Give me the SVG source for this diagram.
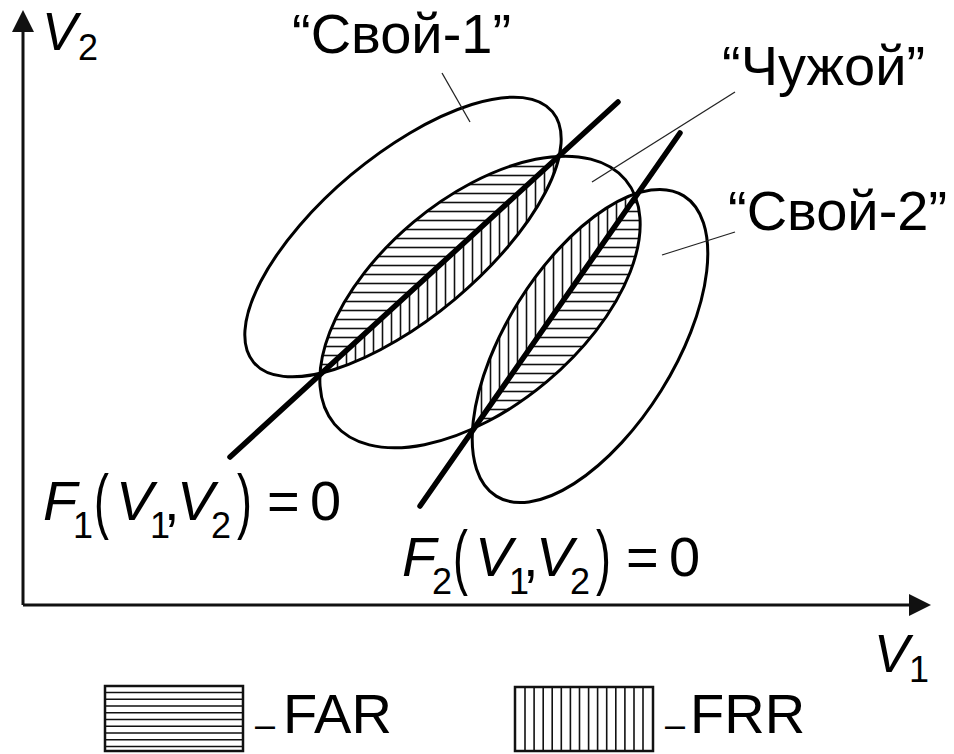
<svg xmlns="http://www.w3.org/2000/svg" width="954" height="754" viewBox="0 0 954 754">
<defs>
<style>
.ell{fill:none;stroke:#000;stroke-width:3}
.bound{stroke:#000;stroke-width:5.5;stroke-linecap:round}
.axis{stroke:#111;stroke-width:3;fill:none}
.lead{stroke:#222;stroke-width:1.3}
.hatch{stroke:#111;stroke-width:1.6}
text{font-family:"Liberation Sans",Arial,sans-serif;fill:#000}
.lbl{font-size:56px}
.ax{font-size:53px}
.it{font-style:italic}
.sub{font-size:36px}
.par{font-size:56px}
.box{fill:#fff;stroke:#111;stroke-width:2.5}
</style>
<marker id="arr" markerUnits="userSpaceOnUse" markerWidth="22" markerHeight="22" viewBox="0 0 22 22" refX="0" refY="11" orient="auto"><path d="M0,0 L22,11 L0,22 z" fill="#111"/></marker>
<pattern id="hH" patternUnits="userSpaceOnUse" width="20" height="9"><line x1="0" y1="4.5" x2="20" y2="4.5" class="hatch"/></pattern>
<pattern id="hV" patternUnits="userSpaceOnUse" width="9" height="20"><line x1="4.5" y1="0" x2="4.5" y2="20" class="hatch"/></pattern>
<clipPath id="cE1"><ellipse cx="403" cy="237" rx="195" ry="81" transform="rotate(-40 403 237)"/></clipPath>
<clipPath id="cE2"><ellipse cx="480" cy="302" rx="190" ry="104" transform="rotate(-40 480 302)"/></clipPath>
<clipPath id="cE3"><ellipse cx="590" cy="346" rx="177" ry="84" transform="rotate(-58 590 346)"/></clipPath>
</defs>
<rect width="954" height="754" fill="#fff"/>

<g id="hatching">
<g clip-path="url(#cE1)"><g clip-path="url(#cE2)">
<polygon points="0,668 954,-206 0,-206" fill="url(#hH)"/>
<polygon points="0,668 954,-206 954,754 0,754" fill="url(#hV)"/>
</g></g>
<g clip-path="url(#cE2)"><g clip-path="url(#cE3)">
<polygon points="0,1109 954,-261 0,-261" fill="url(#hV)"/>
<polygon points="0,1109 954,-261 954,1109" fill="url(#hH)"/>
</g></g>
</g>

<g id="svoi1"><ellipse class="ell" cx="403" cy="237" rx="195" ry="81" transform="rotate(-40 403 237)"/></g>
<g id="chuzhoi"><ellipse class="ell" cx="480" cy="302" rx="190" ry="104" transform="rotate(-40 480 302)"/></g>
<g id="svoi2"><ellipse class="ell" cx="590" cy="346" rx="177" ry="84" transform="rotate(-58 590 346)"/></g>

<g id="connectors">
<line class="bound" x1="230" y1="457" x2="618" y2="102"/>
<line class="bound" x1="420" y1="506" x2="680" y2="133"/>
<line class="axis" x1="23" y1="605" x2="23" y2="32" marker-end="url(#arr)"/>
<line class="axis" x1="23" y1="605" x2="909" y2="605" marker-end="url(#arr)"/>
<line class="lead" x1="442" y1="73" x2="470" y2="122"/>
<line class="lead" x1="735" y1="92" x2="592" y2="182"/>
<line class="lead" x1="735" y1="232" x2="662" y2="255"/>
</g>

<g id="labels">
<text class="lbl" x="292" y="53">“Свой-1”</text>
<text class="lbl" x="722" y="85">“Чужой”</text>
<text class="lbl" x="728" y="230">“Свой-2”</text>
<text class="ax it" x="42" y="50">V</text><text class="sub" x="78" y="60">2</text>
<text class="ax it" x="874" y="672">V</text><text class="sub" x="909" y="682">1</text>
</g>

<g id="f1label">
<text class="lbl it" x="43" y="520">F</text>
<text class="sub" x="73" y="538">1</text>
<text class="par" transform="translate(94 525) scale(0.8 1.3)">(</text>
<text class="lbl it" x="116" y="520">V</text>
<text class="sub" x="150" y="538">1</text>
<text class="lbl" x="164" y="520">,</text>
<text class="lbl it" x="177" y="520">V</text>
<text class="sub" x="211" y="538">2</text>
<text class="par" transform="translate(237 525) scale(0.8 1.3)">)</text>
<text class="lbl" x="267" y="520">=</text>
<text class="lbl" x="310" y="520">0</text>
</g>
<g id="f2label" transform="translate(359 56)">
<text class="lbl it" x="43" y="520">F</text>
<text class="sub" x="73" y="538">2</text>
<text class="par" transform="translate(94 525) scale(0.8 1.3)">(</text>
<text class="lbl it" x="116" y="520">V</text>
<text class="sub" x="150" y="538">1</text>
<text class="lbl" x="164" y="520">,</text>
<text class="lbl it" x="177" y="520">V</text>
<text class="sub" x="211" y="538">2</text>
<text class="par" transform="translate(237 525) scale(0.8 1.3)">)</text>
<text class="lbl" x="267" y="520">=</text>
<text class="lbl" x="310" y="520">0</text>
</g>

<g id="legend-far">
<rect class="box" x="105" y="686" width="138" height="65"/>
<path class="hatch" d="M106,692.5H242M106,699.2H242M106,706H242M106,712.7H242M106,719.5H242M106,726.2H242M106,733H242M106,739.7H242M106,746.5H242"/>
<text class="sub" x="255" y="737">–</text>
<text class="lbl" x="283" y="733">FAR</text>
</g>
<g id="legend-frr">
<rect class="box" x="515" y="687" width="138" height="64"/>
<path class="hatch" d="M525,688V750M534.1,688V750M543.2,688V750M552.2,688V750M561.3,688V750M570.4,688V750M579.5,688V750M588.6,688V750M597.6,688V750M606.7,688V750M615.8,688V750M624.9,688V750M634,688V750M643,688V750"/>
<text class="sub" x="665" y="737">–</text>
<text class="lbl" x="690" y="733">FRR</text>
</g>
</svg>
